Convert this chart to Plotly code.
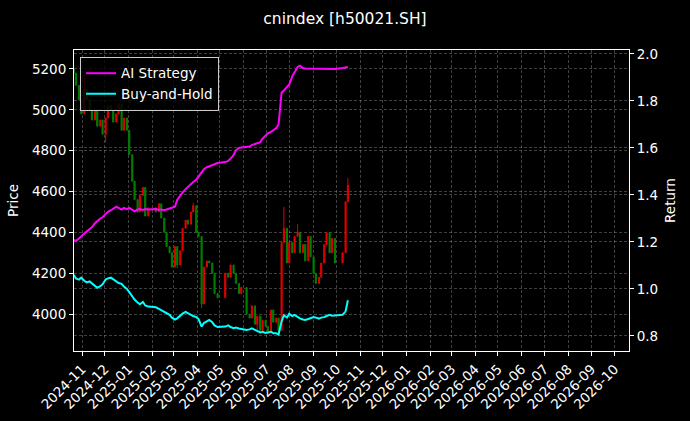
import pandas as pd
import plotly.graph_objects as go

# ---------------- data ----------------
start_date = "2024-10-21"
end_date = "2025-10-16"
holidays = ["2025-01-30", "2025-02-03", "2025-05-01", "2025-05-05",
            "2025-06-02", "2025-10-02", "2025-10-06"]

first_open = 5200
close = [
    5180, 5120, 5050, 4980, 5100, 5050, 5000, 4950, 5000, 4920,
    4950, 4880, 4960, 5020, 5000, 4940, 4980, 5030, 4900, 4960,
    4900, 4780, 4650, 4560, 4500, 4580, 4620, 4480, 4520,
    4500, 4540, 4470, 4400, 4330, 4300, 4230, 4330, 4240,
    4310, 4420, 4460, 4440, 4500, 4530, 4400, 4380, 4050, 4230,
    4260, 4250, 4200, 4100, 4080,
    4200, 4180, 4240, 4200, 4150, 4100, 4130, 4000,
    3980, 4040, 3950, 3990, 3920, 3970, 3940, 3910, 4020, 3960,
    3980, 3920, 4350, 4420, 4250, 4350, 4300, 4380, 4400, 4300,
    4340, 4260, 4380, 4280, 4200, 4150, 4180, 4250, 4340, 4400,
    4300, 4370, 4250,
    4300, 4550, 4630,
]

# notable wick extremes (date: value)
wick_high = {"2024-10-21": 5220, "2024-11-04": 5170, "2025-03-27": 4545,
             "2025-07-24": 4525, "2025-10-16": 4665, "2025-08-11": 4440}
wick_low = {"2024-12-02": 4840, "2025-03-06": 4225, "2025-04-07": 4030,
            "2025-07-17": 3905, "2025-06-19": 3910, "2025-05-01": 4060}

ai_strategy = [
    1.208, 1.205, 1.215, 1.225, 1.235, 1.245, 1.255, 1.262, 1.280, 1.290,
    1.300, 1.305, 1.320, 1.328, 1.335, 1.340, 1.350, 1.345, 1.338, 1.345,
    1.340, 1.345, 1.336, 1.330, 1.338, 1.340, 1.336, 1.340, 1.338,
    1.340, 1.336, 1.338, 1.335, 1.338, 1.340, 1.345, 1.350, 1.380,
    1.400, 1.410, 1.425, 1.435, 1.445, 1.455, 1.465, 1.480, 1.500, 1.510,
    1.518, 1.522, 1.528, 1.532, 1.536,
    1.540, 1.545, 1.555, 1.570, 1.590, 1.600, 1.602, 1.604,
    1.606, 1.612, 1.618, 1.622, 1.625, 1.640, 1.655, 1.662, 1.668, 1.675,
    1.685, 1.700, 1.835, 1.845, 1.860, 1.870, 1.905, 1.925, 1.945, 1.950,
    1.940, 1.938, 1.938, 1.936, 1.936, 1.935, 1.935, 1.935, 1.936, 1.936,
    1.935, 1.936, 1.936,
    1.940, 1.942, 1.945,
]

buy_and_hold = [
    1.060, 1.045, 1.040, 1.048, 1.035, 1.028, 1.032, 1.025, 1.015, 1.005,
    1.012, 1.020, 1.040, 1.045, 1.048, 1.040, 1.030, 1.025, 1.022, 1.010,
    1.000, 0.985, 0.965, 0.955, 0.942, 0.935, 0.945, 0.930, 0.925,
    0.922, 0.915, 0.910, 0.905, 0.900, 0.890, 0.878, 0.870, 0.875,
    0.888, 0.895, 0.902, 0.898, 0.890, 0.885, 0.880, 0.872, 0.840, 0.855,
    0.862, 0.868, 0.858, 0.845, 0.838,
    0.840, 0.845, 0.838, 0.833, 0.836, 0.832, 0.830, 0.825,
    0.828, 0.832, 0.826, 0.820, 0.815, 0.818, 0.813, 0.815, 0.818, 0.812,
    0.812, 0.806, 0.862, 0.888, 0.878, 0.895, 0.885, 0.890, 0.880, 0.875,
    0.870, 0.868, 0.872, 0.875, 0.880, 0.878, 0.874, 0.878, 0.880, 0.885,
    0.890, 0.886, 0.888,
    0.890, 0.905, 0.952,
]

tick_months = pd.date_range("2024-11-01", "2026-10-01", freq="MS")
tick_labels = [d.strftime("%Y-%m") for d in tick_months]

# ---------------- build ----------------
mons = pd.date_range(start_date, end_date, freq="W-MON")
thus = pd.date_range(start_date, end_date, freq="W-THU")
dates = mons.union(thus).difference(pd.to_datetime(holidays)).sort_values()
n = min(len(dates), len(close), len(ai_strategy), len(buy_and_hold))
dates = dates[:n]
close = close[:n]
opens = [first_open] + close[:-1]
keys = [d.strftime("%Y-%m-%d") for d in dates]
highs = [max(o, c, wick_high.get(k, 0)) for o, c, k in zip(opens, close, keys)]
lows = [min(o, c, wick_low.get(k, 1e9)) for o, c, k in zip(opens, close, keys)]

FONT = "DejaVu Sans"
TICK = 13.5
fig = go.Figure()
fig.add_trace(go.Candlestick(
    x=dates, open=opens, high=highs, low=lows, close=close,
    increasing=dict(line=dict(color="#e00000", width=1), fillcolor="#e00000"),
    decreasing=dict(line=dict(color="#008000", width=1), fillcolor="#008000"),
    showlegend=False, name="Price", whiskerwidth=0,
))
fig.add_trace(go.Scatter(x=dates, y=ai_strategy[:n], mode="lines", name="AI Strategy",
                         line=dict(color="#ff00ff", width=2), yaxis="y2"))
fig.add_trace(go.Scatter(x=dates, y=buy_and_hold[:n], mode="lines", name="Buy-and-Hold",
                         line=dict(color="#00ffff", width=2), yaxis="y2"))

grid = "rgba(255,255,255,0.25)"
dash = "3px,2px"
fig.update_layout(
    width=690, height=421,
    paper_bgcolor="black", plot_bgcolor="black",
    margin=dict(l=74, r=61, t=50, b=70, autoexpand=False),
    font=dict(family=FONT, size=TICK, color="white"),
    title=dict(text="cnindex [h50021.SH]", x=0.5, xanchor="center",
               y=1 - 19 / 421, yanchor="middle",
               font=dict(family=FONT, size=15.5, color="white")),
    showlegend=True,
    legend=dict(x=0.011, y=0.977, xanchor="left", yanchor="top",
                bgcolor="rgba(0,0,0,0.8)", bordercolor="#cccccc", borderwidth=1,
                font=dict(family=FONT, size=TICK, color="white"),
                tracegroupgap=0, itemwidth=30),
    xaxis=dict(
        type="date", range=["2024-10-21 12:00", "2026-10-20"],
        rangeslider=dict(visible=False), automargin=False,
        tickmode="array", tickvals=tick_months, ticktext=tick_labels,
        tickangle=-45, tickfont=dict(size=TICK, color="white"),
        ticks="outside", ticklen=4, tickcolor="white",
        showline=True, linecolor="white", linewidth=1, mirror=True,
        showgrid=True, gridcolor=grid, griddash=dash, gridwidth=0.8,
        zeroline=False,
    ),
    yaxis=dict(
        range=[3819, 5293], tickmode="array", automargin=False,
        tickvals=[4000, 4200, 4400, 4600, 4800, 5000, 5200],
        ticks="outside", ticklen=4, tickcolor="white",
        tickfont=dict(size=TICK, color="white"),
        showline=True, linecolor="white", linewidth=1, mirror=True,
        showgrid=True, gridcolor=grid, griddash=dash, gridwidth=0.8,
        zeroline=False,
        title=dict(text="Price", standoff=10, font=dict(size=TICK, color="white")),
    ),
    yaxis2=dict(
        overlaying="y", side="right", range=[0.736, 2.017], automargin=False,
        tickmode="array", tickvals=[0.8, 1.0, 1.2, 1.4, 1.6, 1.8, 2.0],
        tickformat=".1f",
        ticks="outside", ticklen=4, tickcolor="white",
        tickfont=dict(size=TICK, color="white"),
        showline=False,
        showgrid=True, gridcolor=grid, griddash=dash, gridwidth=0.8,
        zeroline=False,
        title=dict(text="Return", standoff=8, font=dict(size=TICK, color="white")),
    ),
)

fig.write_html(
    "out.html",
    config={"displayModeBar": False},
    post_script="document.body.style.margin='0';document.body.style.padding='0';"
                "document.body.style.background='black';",
)
